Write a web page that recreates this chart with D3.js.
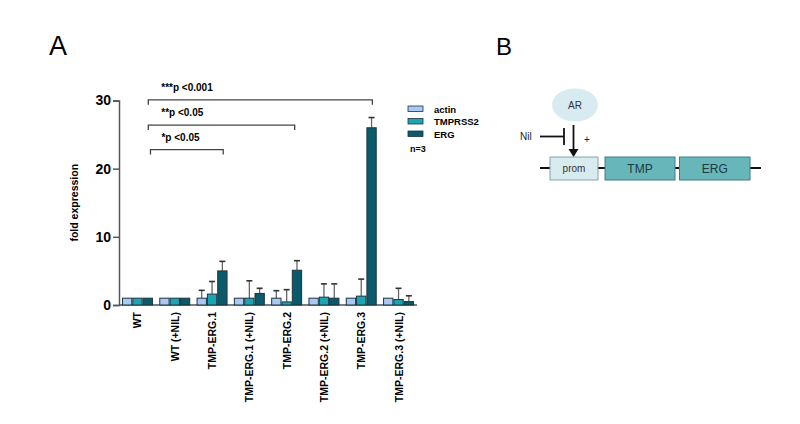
<!DOCTYPE html>
<html><head><meta charset="utf-8">
<script src="https://cdn.jsdelivr.net/npm/d3@7"></script>
<style>body{margin:0;background:#fff}svg{display:block}</style>
</head><body>
<svg id="c" width="800" height="424"></svg>
<script>
const categories = ["WT","WT (+NIL)","TMP-ERG.1","TMP-ERG.1 (+NIL)","TMP-ERG.2","TMP-ERG.2 (+NIL)","TMP-ERG.3","TMP-ERG.3 (+NIL)"];
const seriesNames = ["actin","TMPRSS2","ERG"];
const actin   = [1,1,1,1,1,1,1,1];
const tmprss2 = [1,1,1.6,1.0,0.45,1.15,1.3,0.8];
const erg     = [1,1,5.0,1.7,5.1,1.0,26.0,0.5];
const actinErr   = [0,0,1.15,0,1.1,0,0,0];
const tmprss2Err = [0,0,1.85,2.55,1.8,1.95,2.5,1.65];
const ergErr     = [0,0,1.4,0.75,1.4,2.1,1.5,0.85];
const yTicks = [0,10,20,30];
const brackets = [
  {from:"WT", to:"TMP-ERG.3", label:"***p <0.001", level:30.1},
  {from:"WT", to:"TMP-ERG.2", label:"**p <0.05", level:26.4},
  {from:"WT", to:"TMP-ERG.1", label:"*p <0.05", level:22.8}
];
const colors = ["#a9c8f5","#1aa5b5","#0b5a6b"];

const svg = d3.select("#c");
const values = [actin, tmprss2, erg];
const errs = [actinErr, tmprss2Err, ergErr];

const x = d3.scaleBand().domain(categories).range([119,417]).paddingInner(0.17).paddingOuter(0.08);
const x1 = d3.scaleBand().domain(seriesNames).range([0, x.bandwidth()]);
const y = d3.scaleLinear().domain([0,30]).range([305,100.5]);

// panel letters
svg.append("text").attr("x",49).attr("y",55).attr("font-family","Liberation Sans, Arial, sans-serif").attr("font-size",27).text("A");
svg.append("text").attr("x",496).attr("y",55).attr("font-family","Liberation Sans, Arial, sans-serif").attr("font-size",24).text("B");

// axes
const axisColor = "#555";
const yAxis = svg.append("g").attr("transform","translate(119,0)")
  .call(d3.axisLeft(y).tickValues(yTicks).tickSize(6).tickFormat(d3.format("d")));
yAxis.select(".domain").attr("stroke",axisColor).attr("stroke-width",1.5);
yAxis.selectAll(".tick line").attr("stroke",axisColor).attr("stroke-width",1.5);
yAxis.selectAll(".tick text").attr("font-family","Liberation Sans, Arial, sans-serif").attr("font-weight","bold").attr("font-size",14).attr("fill","#000").attr("x",-8);

svg.append("line").attr("x1",119).attr("x2",417).attr("y1",y(0)).attr("y2",y(0)).attr("stroke",axisColor).attr("stroke-width",1.5);

svg.append("text").attr("transform",`translate(78,${y(15)}) rotate(-90)`).attr("text-anchor","middle")
  .attr("font-family","Liberation Sans, Arial, sans-serif").attr("font-weight","bold").attr("font-size",10.5).text("fold expression");

// x labels
categories.forEach(c => {
  svg.append("text").attr("transform",`translate(${x(c)+x.bandwidth()/2+4},${y(0)+7}) rotate(-90)`)
    .attr("text-anchor","end").attr("font-family","Liberation Sans, Arial, sans-serif").attr("font-weight","bold").attr("font-size",10.5)
    .text(c);
});

// error bars (behind bars)
const bw = x1.bandwidth();
seriesNames.forEach((s,si) => {
  categories.forEach((c,ci) => {
    const e = errs[si][ci];
    if (!e) return;
    const cx = x(c) + x1(s) + bw/2;
    const top = y(values[si][ci] + e);
    svg.append("line").attr("x1",cx).attr("x2",cx).attr("y1",y(values[si][ci])).attr("y2",top).attr("stroke","#666").attr("stroke-width",1.3);
    svg.append("line").attr("x1",cx-3).attr("x2",cx+3).attr("y1",top).attr("y2",top).attr("stroke","#333").attr("stroke-width",1.6);
  });
});

// bars
seriesNames.forEach((s,si) => {
  svg.append("g").selectAll("rect").data(categories).join("rect")
    .attr("x", c => x(c) + x1(s) + 0.5)
    .attr("width", bw - 1)
    .attr("y", (c,i) => y(values[si][i]))
    .attr("height", (c,i) => y(0) - y(values[si][i]))
    .attr("fill", colors[si]).attr("stroke","#1c3440").attr("stroke-width",1);
});

// brackets
brackets.forEach((b,i) => {
  const xa = x(b.from) + x.bandwidth()*(i===2?0.92:0.85);
  const xb = x(b.to) + x.bandwidth()*(i===1?0.76:0.86);
  const yy = y(b.level);
  svg.append("path").attr("d",`M${xa},${yy+5}V${yy}H${xb}V${yy+5}`).attr("fill","none").attr("stroke","#444").attr("stroke-width",1.3);
  svg.append("text").attr("x",xa+13 - (i===2?2:0)).attr("y",yy-9).attr("font-family","Liberation Sans, Arial, sans-serif").attr("font-weight","bold").attr("font-size",10).text(b.label);
});

// legend
const lg = svg.append("g").attr("transform","translate(408,106)");
seriesNames.forEach((s,i) => {
  lg.append("rect").attr("x",0).attr("y",i*12.5).attr("width",15).attr("height",5.5).attr("fill",colors[i]).attr("stroke","#1c3440").attr("stroke-width",0.8);
  lg.append("text").attr("x",26).attr("y",i*12.5+6.5).attr("font-family","Liberation Sans, Arial, sans-serif").attr("font-weight","bold").attr("font-size",9.5).text(s);
});
lg.append("text").attr("x",2).attr("y",46).attr("font-family","Liberation Sans, Arial, sans-serif").attr("font-weight","bold").attr("font-size",9).text("n=3");

// diagram B
const dg = svg.append("g");
const font2 = "Liberation Sans, Arial, sans-serif";
dg.append("ellipse").attr("cx",575).attr("cy",105).attr("rx",23).attr("ry",16.5).attr("fill","#d7ebf0");
dg.append("text").attr("x",575).attr("y",108.5).attr("text-anchor","middle").attr("font-family",font2).attr("font-size",10).attr("fill","#333").text("AR");
dg.append("line").attr("x1",540).attr("x2",564).attr("y1",136.5).attr("y2",136.5).attr("stroke","#111").attr("stroke-width",1.8);
dg.append("line").attr("x1",564).attr("x2",564).attr("y1",128).attr("y2",145).attr("stroke","#111").attr("stroke-width",1.8);
dg.append("text").attr("x",520).attr("y",139.5).attr("font-family",font2).attr("font-size",10).attr("fill","#222").text("Nil");
dg.append("text").attr("x",584).attr("y",143).attr("font-family",font2).attr("font-size",10).attr("fill","#222").text("+");
dg.append("line").attr("x1",573.5).attr("x2",573.5).attr("y1",125).attr("y2",150).attr("stroke","#111").attr("stroke-width",1.8);
dg.append("path").attr("d","M568.5,149 L578.5,149 L573.5,157 Z").attr("fill","#111");
dg.append("line").attr("x1",540).attr("x2",761).attr("y1",168).attr("y2",168).attr("stroke","#111").attr("stroke-width",1.8);
dg.append("rect").attr("x",550).attr("y",157).attr("width",48).attr("height",23).attr("fill","#d8ecf0").attr("stroke","#6b8f96").attr("stroke-width",0.8);
dg.append("text").attr("x",574).attr("y",172).attr("text-anchor","middle").attr("font-family",font2).attr("font-size",10).attr("fill","#333").text("prom");
[["TMP",605,70],["ERG",679.5,70.5]].forEach(([t,bx,w]) => {
  dg.append("rect").attr("x",bx).attr("y",157).attr("width",w).attr("height",23).attr("fill","#67b6b9").attr("stroke","#3d7f85").attr("stroke-width",1);
  dg.append("text").attr("x",bx+w/2).attr("y",173).attr("text-anchor","middle").attr("font-family",font2).attr("font-size",12).attr("fill","#1e3a42").text(t);
});
</script>
</body></html>
